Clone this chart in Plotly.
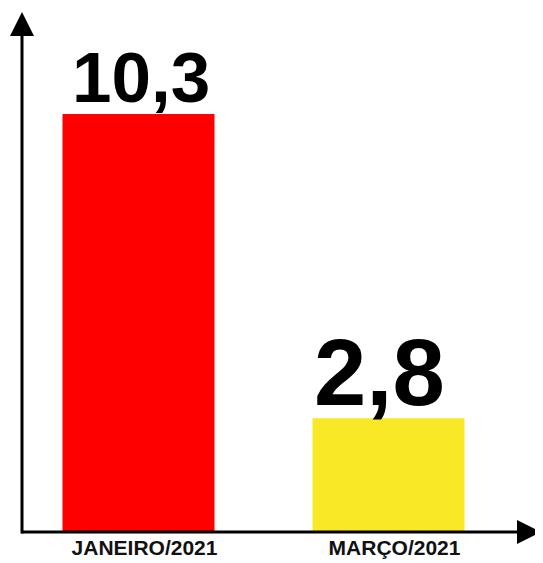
import plotly.graph_objects as go

categories = ["JANEIRO/2021", "MARÇO/2021"]
values = [10.3, 2.8]
bar_colors = ["#FF0000", "#F9E825"]
label_sizes = [71, 94]
label_xshift = [2, -9]
label_yshift = [-5, -9]

fig = go.Figure()
fig.add_trace(go.Bar(
    x=categories, y=values, width=0.608,
    marker=dict(color=bar_colors, line=dict(width=0)),
    hoverinfo="skip",
))

for c, v, s, xs, ys in zip(categories, values, label_sizes, label_xshift, label_yshift):
    fig.add_annotation(
        x=c, y=v, xref="x", yref="y",
        text=f"{v:.1f}".replace(".", ","),
        showarrow=False, yanchor="bottom", xanchor="center",
        xshift=xs, yshift=ys,
        font=dict(family="Liberation Sans", size=s, color="#000000", weight="bold"),
    )

# axis arrows
fig.add_annotation(x=0, y=1, xref="paper", yref="paper", ax=0, ay=523,
                   showarrow=True, text="",
                   arrowhead=2, arrowsize=1.6, arrowwidth=3, arrowcolor="#000000", standoff=0)
fig.add_annotation(x=1, y=0, xref="paper", yref="paper", ax=-521, ay=0,
                   showarrow=True, text="",
                   arrowhead=2, arrowsize=1.6, arrowwidth=3, arrowcolor="#000000", standoff=0)

fig.update_layout(
    width=535, height=555,
    margin=dict(l=14, r=2, t=4, b=31),
    paper_bgcolor="white", plot_bgcolor="white",
    showlegend=False,
    xaxis=dict(range=[-0.466, 1.61], showgrid=False, zeroline=False, showline=False,
               ticks="", tickfont=dict(family="Liberation Sans", size=21, color="#111111", weight="bold"),
               ticklabelshift=6, ticklabelstandoff=1, fixedrange=True),
    yaxis=dict(range=[0, 12.81], showgrid=False, zeroline=False, showline=False,
               showticklabels=False, ticks="", fixedrange=True),
)

fig.write_html("out.html")
